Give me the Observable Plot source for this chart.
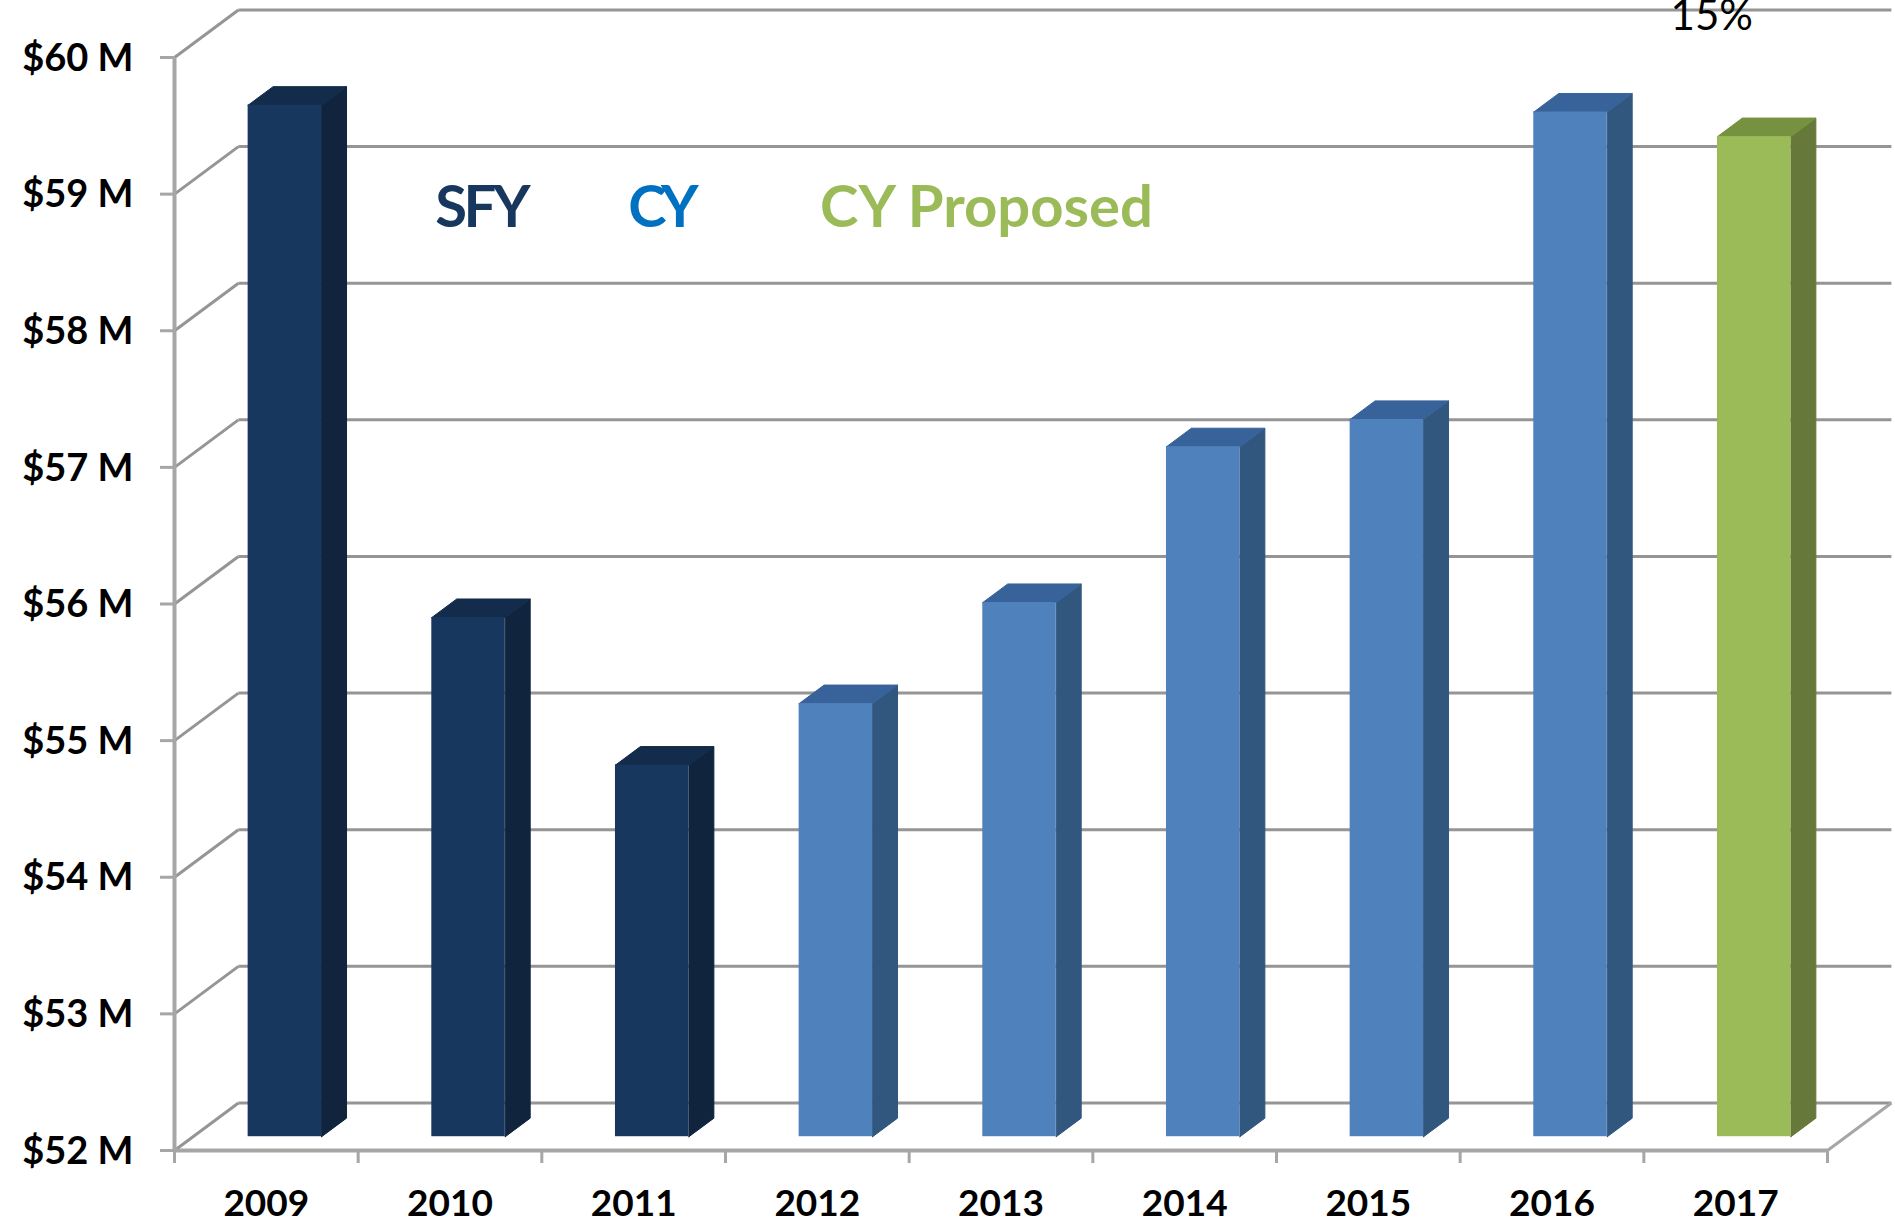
<!DOCTYPE html>
<html>
<head>
<meta charset="utf-8">
<style>
html,body{margin:0;padding:0;background:#fff;}
svg{display:block;max-width:none;}
</style>
<script src="https://cdn.jsdelivr.net/npm/d3@7"></script>
<script src="https://cdn.jsdelivr.net/npm/@observablehq/plot@0.6"></script>
</head>
<body>
<div id="chart"></div>
<script>
const years = [2009, 2010, 2011, 2012, 2013, 2014, 2015, 2016, 2017];
const values = [59.55, 55.80, 54.72, 55.17, 55.91, 57.05, 57.25, 59.50, 59.32];
const series = ["SFY", "SFY", "SFY", "CY", "CY", "CY", "CY", "CY", "Proposed"];
const yTicks = [52, 53, 54, 55, 56, 57, 58, 59, 60];
const legendLabels = ["SFY", "CY", "CY Proposed"];
const legendColors = ["#17375E", "#0070C0", "#9BBB59"];
const legendX = [1.42, 2.47, 3.515];
const legendSpacing = ["-3.5px", "-5.5px", "0px"];
const note = "15%";

const faces = {
  SFY: {front: "#17375E", side: "#10243E", top: "#132C4C"},
  CY: {front: "#4F81BD", side: "#31577F", top: "#38639A"},
  Proposed: {front: "#9BBB59", side: "#66793A", top: "#76913F"}
};

const baseValue = 52;
const depthX = 0.348;   // full depth of the floor, in category units
const depthY = 0.348;   // full depth of the floor, in $M units
const zFront = 0.29;
const zBack = 0.68;
const barWidth = 0.4;

const px = (x, z) => x + z * depthX;
const py = (v, z) => v + z * depthY;

const bars = years.map((year, i) => ({
  year, value: values[i], kind: series[i],
  x1: px(i + 0.5 - barWidth / 2, zFront),
  x2: px(i + 0.5 + barWidth / 2, zFront),
  x3: px(i + 0.5 + barWidth / 2, zBack),
  x4: px(i + 0.5 - barWidth / 2, zBack),
  bottomF: py(baseValue, zFront),
  bottomB: py(baseValue, zBack),
  topF: py(values[i], zFront),
  topB: py(values[i], zBack)
}));

const polys = bars.flatMap((b, i) => [
  {id: `s${i}`, x: b.x2, y: b.bottomF, fill: faces[b.kind].side},
  {id: `s${i}`, x: b.x3, y: b.bottomB, fill: faces[b.kind].side},
  {id: `s${i}`, x: b.x3, y: b.topB, fill: faces[b.kind].side},
  {id: `s${i}`, x: b.x2, y: b.topF, fill: faces[b.kind].side},
  {id: `s${i}`, x: b.x2, y: b.bottomF, fill: faces[b.kind].side},
  {id: `t${i}`, x: b.x1, y: b.topF, fill: faces[b.kind].top},
  {id: `t${i}`, x: b.x2, y: b.topF, fill: faces[b.kind].top},
  {id: `t${i}`, x: b.x3, y: b.topB, fill: faces[b.kind].top},
  {id: `t${i}`, x: b.x4, y: b.topB, fill: faces[b.kind].top},
  {id: `t${i}`, x: b.x1, y: b.topF, fill: faces[b.kind].top}
]);

const boundaries = d3.range(0, years.length + 1);
const centers = years.map((_, i) => i + 0.5);
const nCat = years.length;
const gridColor = "#959595";
const axisColor = "#a6a6a6";
const font = "Lato, 'Open Sans', sans-serif";

const chart = Plot.plot({
  width: 1895,
  height: 1224,
  marginLeft: 174,
  marginRight: 68,
  marginTop: 57,
  marginBottom: 74,
  style: {background: "#fff", fontFamily: font, overflow: "hidden"},
  x: {type: "linear", domain: [0, nCat]},
  y: {type: "linear", domain: [52, 60]},
  color: {type: "identity"},
  marks: [
    // side wall diagonals
    Plot.link(yTicks, {
      x1: 0, x2: px(0, 1),
      y1: d => d, y2: d => py(d, 1),
      stroke: gridColor, strokeWidth: 3
    }),
    // back wall gridlines
    Plot.link(yTicks, {
      x1: px(0, 1), x2: px(nCat, 1),
      y1: d => py(d, 1), y2: d => py(d, 1),
      stroke: gridColor, strokeWidth: 3
    }),
    // floor right diagonal
    Plot.link([baseValue], {
      x1: nCat, x2: px(nCat, 1),
      y1: d => d, y2: d => py(d, 1),
      stroke: axisColor, strokeWidth: 3
    }),
    // value axis line and floor front line
    Plot.link([0], {x1: 0, x2: 0, y1: 52, y2: 60, stroke: axisColor, strokeWidth: 4}),
    Plot.link([baseValue], {x1: 0, x2: nCat, y1: d => d, y2: d => d, stroke: axisColor, strokeWidth: 4}),
    // axes
    Plot.axisY(yTicks, {
      anchor: "left",
      tickSize: 14,
      stroke: axisColor,
      strokeWidth: 3,
      tickFormat: null,
      text: null,
      label: null
    }),
    Plot.axisY(yTicks, {
      anchor: "left",
      tickSize: 0,
      tickPadding: 41,
      tickFormat: d => `$${d} M`,
      fontSize: 38,
      fontWeight: 700,
      fill: "#000",
      dy: 1,
      label: null
    }),
    Plot.axisX(boundaries, {
      anchor: "bottom",
      tickSize: 13,
      tickFormat: () => "",
      stroke: axisColor,
      strokeWidth: 3,
      label: null
    }),
    Plot.axisX(centers, {
      anchor: "bottom",
      tickSize: 0,
      tickPadding: 39.5,
      tickFormat: d => String(years[d - 0.5]),
      fontSize: 37,
      fontWeight: 700,
      fill: "#000",
      label: null
    }),
    // bars
    Plot.line(polys, {x: "x", y: "y", z: "id", fill: "fill", stroke: "fill", strokeWidth: 1}),
    Plot.rect(bars, {
      x1: "x1", x2: "x2", y1: "bottomF", y2: "topF",
      fill: d => faces[d.kind].front,
      inset: 0
    }),
    // legend and note
    Plot.text(legendLabels, {
      x: (d, i) => legendX[i],
      y: 58.76,
      text: d => d,
      fill: (d, i) => legendColors[i],
      textAnchor: "start",
      lineAnchor: "bottom",
      fontSize: 58,
      fontWeight: 700,
      className: "legend-label"
    }),
    Plot.text([note], {
      x: 8.37,
      y: 60.2,
      text: d => d,
      fill: "#000",
      textAnchor: "middle",
      lineAnchor: "bottom",
      fontSize: 42
    })
  ]
});
d3.select(chart).selectAll(".legend-label text")
  .style("letter-spacing", (d, i) => legendSpacing[i]);
document.getElementById("chart").appendChild(chart);
</script>
</body>
</html>
